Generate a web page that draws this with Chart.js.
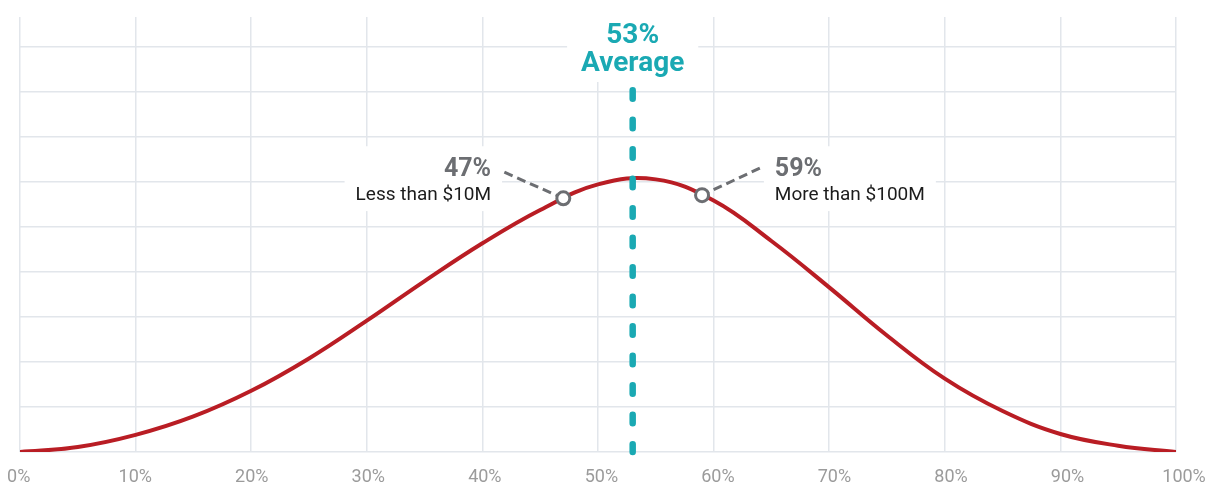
<!DOCTYPE html>
<html lang="en">
<head>
<meta charset="UTF-8">
<title>Distribution curve</title>
<script src="https://cdn.jsdelivr.net/npm/chart.js"></script>
<style>
    html, body { margin: 0; padding: 0; background: #fff; }
    #curveChart { display: block; }
</style>
</head>
<body>
<canvas id="curveChart" width="1217" height="489"></canvas>
<script>
// axis ticks (percent)
const xTicks = [0, 10, 20, 30, 40, 50, 60, 70, 80, 90, 100];

// distribution curve
const curveX = [0, 5, 10, 15, 20, 25, 30, 35, 40, 45, 50, 55, 60, 65, 70, 75, 80, 85, 90, 95, 100];
const curveY = [0, 1.1, 3.8, 7.9, 13.6, 20.8, 29.2, 38.0, 46.4, 53.8, 59.5, 60.6, 55.9, 46.9, 36.6, 25.9, 16.3, 9.1, 4.0, 1.4, 0];

// highlighted groups
const groupNames = ['Less than $10M', 'More than $100M'];
const groupPct = [47, 59];
const groupY = [56.4, 57.1];

// average marker
const avgPct = 53;
const avgName = 'Average';

const RED = '#b91d24';
const TEAL = '#1aa9b3';
const GREY = '#6c6e72';
const GRID = '#e2e6eb';
const FONT = 'Roboto';

// where each callout text sits (axis units) and where its leader starts
const calloutLayout = [
    { textX: 40.75, align: 'right', leader: [41.9, 62.2] },
    { textX: 65.3, align: 'left', leader: [64.0, 63.1] }
];

function textBox(ctx, lines, anchorX, align, topY, bottomY, padX) {
    let w = 0;
    lines.forEach(l => {
        ctx.font = l.font;
        w = Math.max(w, ctx.measureText(l.text).width);
    });
    let left = anchorX;
    if (align === 'right') left = anchorX - w;
    if (align === 'center') left = anchorX - w / 2;
    ctx.fillStyle = '#fff';
    ctx.fillRect(left - padX, topY, w + padX * 2, bottomY - topY);
}

const calloutPlugin = {
    id: 'callouts',
    beforeDatasetsDraw(chart) {
        const { ctx, scales: { x, y } } = chart;
        ctx.save();
        // white boxes so the grid doesn't run through the labels
        groupNames.forEach((name, i) => {
            const lay = calloutLayout[i];
            textBox(ctx, [
                { text: groupPct[i] + '%', font: 'bold 25px ' + FONT },
                { text: name, font: '19px ' + FONT }
            ], x.getPixelForValue(lay.textX), lay.align,
                y.getPixelForValue(61.3) - 30, y.getPixelForValue(56.0) + 11, 11);
        });
        textBox(ctx, [
            { text: avgPct + '%', font: 'bold 28px ' + FONT },
            { text: avgName, font: 'bold 28px ' + FONT }
        ], x.getPixelForValue(avgPct), 'center',
            y.getPixelForValue(91.0) - 30, y.getPixelForValue(84.7) + 11, 14);

        // dashed leaders from labels to the points
        ctx.strokeStyle = GREY;
        ctx.lineWidth = 3;
        ctx.setLineDash([9, 5]);
        groupPct.forEach((p, i) => {
            const lay = calloutLayout[i];
            ctx.beginPath();
            ctx.moveTo(x.getPixelForValue(lay.leader[0]), y.getPixelForValue(lay.leader[1]));
            ctx.lineTo(x.getPixelForValue(p), y.getPixelForValue(groupY[i]));
            ctx.stroke();
        });
        ctx.restore();
    },
    afterDatasetDraw(chart, args) {
        // average line goes over the curve but under the markers
        if (args.index !== 1) return;
        const { ctx, chartArea, scales: { x, y } } = chart;
        const ax = x.getPixelForValue(avgPct);
        ctx.save();
        ctx.strokeStyle = TEAL;
        ctx.lineWidth = 6.5;
        ctx.lineCap = 'round';
        ctx.setLineDash([8.5, 21]);
        ctx.beginPath();
        ctx.moveTo(ax, y.getPixelForValue(80.4));
        ctx.lineTo(ax, chartArea.bottom);
        ctx.stroke();
        ctx.restore();
    },
    afterDraw(chart) {
        const { ctx, scales: { x, y } } = chart;
        ctx.save();
        ctx.textBaseline = 'alphabetic';
        groupNames.forEach((name, i) => {
            const lay = calloutLayout[i];
            const tx = x.getPixelForValue(lay.textX);
            ctx.textAlign = lay.align;
            ctx.fillStyle = GREY;
            ctx.font = 'bold 25px ' + FONT;
            ctx.fillText(groupPct[i] + '%', tx, y.getPixelForValue(61.3));
            ctx.fillStyle = '#1c1c1c';
            ctx.font = '19px ' + FONT;
            ctx.fillText(name, tx, y.getPixelForValue(56.0));
        });
        const ax = x.getPixelForValue(avgPct);
        ctx.textAlign = 'center';
        ctx.fillStyle = TEAL;
        ctx.font = 'bold 28px ' + FONT;
        ctx.fillText(avgPct + '%', ax, y.getPixelForValue(91.0));
        ctx.fillText(avgName, ax, y.getPixelForValue(84.7));
        ctx.restore();
    }
};

// keep the label axis from pushing the plot area around
function fixAxis(height) {
    return axis => {
        axis.height = height;
        axis.paddingLeft = 0;
        axis.paddingRight = 0;
    };
}

const ctx = document.getElementById('curveChart').getContext('2d');
new Chart(ctx, {
    type: 'line',
    data: {
        datasets: [
            {
                label: 'groups',
                data: groupPct.map((p, i) => ({ x: p, y: groupY[i] })),
                showLine: false,
                pointRadius: 6.5,
                pointBorderWidth: 3,
                pointBackgroundColor: '#fff',
                pointBorderColor: GREY,
                order: 0
            },
            {
                label: 'distribution',
                data: curveX.map((v, i) => ({ x: v, y: curveY[i] })),
                borderColor: RED,
                borderWidth: 4,
                borderCapStyle: 'round',
                tension: 0.4,
                pointRadius: 0,
                fill: false,
                order: 1
            }
        ]
    },
    options: {
        responsive: false,
        animation: false,
        events: [],
        layout: { padding: { top: 17, left: 20, right: 41, bottom: 0 } },
        plugins: { legend: { display: false }, tooltip: { enabled: false } },
        scales: {
            x: {
                type: 'linear',
                min: 0,
                max: 100,
                grid: { color: GRID, lineWidth: 1.5, drawTicks: false },
                border: { display: false },
                ticks: { display: false },
                afterBuildTicks: axis => { axis.ticks = xTicks.map(v => ({ value: v })); },
                afterFit: fixAxis(0)
            },
            // tick labels are spaced a touch wider than the grid
            xLabels: {
                axis: 'x',
                type: 'linear',
                position: 'bottom',
                min: 0.11,
                max: 99.31,
                grid: { display: false, drawTicks: false },
                border: { display: false },
                afterBuildTicks: axis => { axis.ticks = xTicks.map(v => ({ value: v })); },
                afterFit: fixAxis(37),
                ticks: {
                    padding: 15,
                    color: '#9b9b9b',
                    font: { family: FONT, size: 18 },
                    maxRotation: 0,
                    autoSkip: false,
                    callback: v => v + '%'
                }
            },
            y: {
                min: 0,
                max: 96.7,
                grid: { color: GRID, lineWidth: 1.5, drawTicks: false },
                border: { display: false },
                ticks: { display: false, stepSize: 10 },
                afterBuildTicks: axis => { axis.ticks = axis.ticks.filter(t => t.value % 10 === 0); },
                afterFit: axis => { axis.width = 0; }
            }
        }
    },
    plugins: [calloutPlugin]
});
</script>
</body>
</html>
